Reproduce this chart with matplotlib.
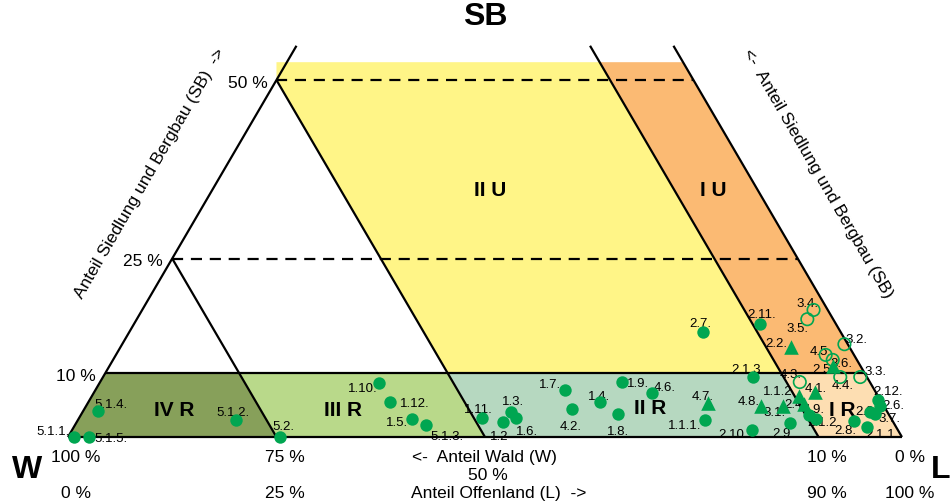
import matplotlib.pyplot as plt
from matplotlib.patches import Polygon

plt.rcParams['font.family'] = ['Liberation Sans', 'DejaVu Sans']

# point data: Wald share (W, %) and Siedlung/Bergbau share (SB, %)
labels = ["5.1.1.", "5.1.5.", "5.1.4.", "5.1.2.", "5.2.",
          "1.10.", "1.12.", "1.5.", "5.1.3.",
          "1.11.", "1.2", "1.3.", "1.6.", "1.7.", "1.9.", "4.6.", "1.4.", "4.2.", "1.8.",
          "4.7.", "1.1.1.", "2.10.", "2.1.3", "4.8.", "3.1.", "1.1.2.", "2.4.", "4.9.",
          "2.1.2.", "2.9.", "4.3.", "4.1.",
          "2.11.", "3.4.", "3.5.", "2.2.", "4.5.", "3.6.", "2.5", "4.4.", "3.2.", "3.3.",
          "2.12.", "2.6.", "2.3.", "3.7.", "2.8.", "2.1.1.", "2.7."]
wald = [99.3, 97.5, 94.6, 78.7, 74.6,
        58.9, 58.9, 57.5, 56.2,
        49.0, 46.8, 45.1, 44.9, 37.1, 29.7, 26.9, 33.8, 37.6, 32.4,
        20.9, 22.4, 17.5, 13.7, 14.7, 12.1, 9.5, 9.4, 9.6,
        9.0, 12.4, 8.4, 7.3,
        9.1, 1.7, 3.1, 7.0, 3.4, 2.9, 3.3, 3.2, 0.4, 0.8,
        0.3, 0.5, 2.1, 1.6, 4.6, 3.5, 16.5]
sb = [0.0, 0.0, 3.6, 2.4, 0.0,
      7.6, 4.9, 2.5, 1.7,
      2.7, 2.1, 3.5, 2.7, 6.6, 7.7, 6.2, 4.9, 3.9, 3.2,
      4.8, 2.4, 1.0, 8.4, 4.3, 4.3, 5.7, 4.6, 3.1,
      2.5, 2.0, 7.7, 6.3,
      15.8, 17.8, 16.5, 12.6, 11.5, 10.8, 9.9, 8.4, 13.0, 8.4,
      5.2, 4.3, 3.5, 3.2, 2.2, 1.4, 14.7]
kind = ["o"] * 19 + ["^", "o", "o", "o", "^", "^", "^", "^", "o", "o", "o", "ring", "^",
                     "o", "ring", "ring", "^", "ring", "ring", "^", "ring", "ring", "ring",
                     "o", "o", "o", "o", "o", "o", "o"]

# label offsets in pixels (dx, dy up)
offsets = {
    "5.1.1.": (-21, 6), "5.1.5.": (22, -1), "5.1.4.": (13, 7), "5.1.2.": (-3, 8),
    "5.2.": (4, 11), "1.10.": (-16, -5), "1.12.": (24, -1), "1.5.": (-15, -3),
    "5.1.3.": (21, -11), "1.11.": (-4, 9), "1.2": (-4, -14), "1.3.": (2, 11),
    "1.6.": (11, -13), "1.7.": (-15, 6), "1.9.": (16, -1), "4.6.": (13, 6),
    "1.4.": (-1, 6), "4.2.": (-1, -17), "1.8.": (0, -17), "4.7.": (-5, 7),
    "1.1.1.": (-20, -5), "2.10.": (-19, -4), "2.1.3": (-7, 8), "4.8.": (-13, 5),
    "3.1.": (-9, -6), "1.1.2.": (-19, 5), "2.4.": (-9, 0), "4.9.": (5, 6),
    "2.1.2.": (7, -3), "2.9.": (-7, -10), "4.3.": (-9, 8), "4.1.": (1, 4),
    "2.11.": (1, 10), "3.4.": (-6, 7), "3.5.": (-10, -9), "2.2.": (-15, 4),
    "4.5.": (-5, 4), "3.6.": (9, -3), "2.5": (-12, -3), "4.4.": (2, -8),
    "3.2.": (12, 5), "3.3.": (15, 6), "2.12.": (10, 9), "2.6.": (13, 1),
    "2.3.": (-4, 1), "3.7.": (14, -4), "2.8.": (-9, -9), "2.1.1.": (15, -7),
    "2.7.": (-3, 9),
}

R_TOP = 8.9      # drawn height of the "10 %" line
FILL_TOP = 52.5
LINE_TOP = 54.8


def tern(w, s):
    return 100 - w - s / 2, s


green = "#00a651"

fig = plt.figure(figsize=(9.52, 5.02), dpi=100)
ax = fig.add_axes([0, 0, 1, 1])
ax.set_xlim(-8.15, 106.0)
ax.set_ylim(-8.96, 61.35)
ax.axis("off")

# regions
regions = [
    ([tern(100, 0), tern(75, 0), tern(75, R_TOP), tern(100 - R_TOP, R_TOP)], "#87a05a"),
    ([tern(75, 0), tern(50, 0), tern(50, R_TOP), tern(75, R_TOP)], "#b9d98a"),
    ([tern(50, 0), tern(10, 0), tern(10, R_TOP), tern(50, R_TOP)], "#b6d8c0"),
    ([tern(10, 0), tern(0, 0), tern(0, R_TOP), tern(10, R_TOP)], "#fddeb2"),
    ([tern(50, R_TOP), tern(10, R_TOP), tern(10, FILL_TOP), (25, FILL_TOP), tern(50, 50)], "#fff587"),
    ([tern(10, R_TOP), tern(0, R_TOP), tern(0, FILL_TOP), tern(10, FILL_TOP)], "#fbba73"),
]
for pts, col in regions:
    ax.add_patch(Polygon(pts, closed=True, facecolor=col, edgecolor="none", zorder=1))

# solid lines
segs = [
    (tern(100, 0), tern(100 - LINE_TOP, LINE_TOP)),
    (tern(0, 0), tern(0, LINE_TOP)),
    (tern(10, 0), tern(10, LINE_TOP)),
    (tern(50, 0), tern(50, 50)),
    (tern(75, 0), tern(75, 25)),
    (tern(100, 0), tern(0, 0)),
    (tern(100 - R_TOP, R_TOP), tern(0, R_TOP)),
]
for a, b in segs:
    ax.plot([a[0], b[0]], [a[1], b[1]], color="black", lw=1.6, zorder=2,
            solid_capstyle="butt")
for lev in [25, 50]:
    a, b = tern(100 - lev, lev), tern(0, lev)
    ax.plot([a[0], b[0]], [a[1], b[1]], color="black", lw=1.6, zorder=2,
            linestyle=(0, (5, 3.5)))

# points
for lab, w, s, k in zip(labels, wald, sb, kind):
    x, y = tern(w, s)
    if k == "o":
        ax.scatter(x, y, s=80, marker="o", color=green, zorder=5, linewidths=0)
    elif k == "^":
        ax.scatter(x, y, s=110, marker="^", color=green, zorder=5, linewidths=0)
    else:
        ax.scatter(x, y, s=80, marker="o", facecolors="none", edgecolors=green,
                   linewidths=1.2, zorder=5)
    dx, dy = offsets[lab]
    ax.annotate(lab, (x, y), xytext=(dx, dy), textcoords="offset pixels",
                ha="center", va="center", fontsize=9.5, color="black", zorder=4)

# region names
for txt, w, s in [("IV R", 85.3, 3.9), ("III R", 65.1, 3.9), ("II R", 28.2, 4.1),
                  ("I R", 5.2, 3.8), ("II U", 32.0, 34.7), ("I U", 5.3, 34.7)]:
    x, y = tern(w, s)
    ax.text(x, y, txt, ha="center", va="center", fontsize=15, fontweight="bold", zorder=3)

# corner letters
ax.text(50, 59.0, "SB", ha="center", va="center", fontsize=23, fontweight="bold")
ax.text(-4.9, -4.5, "W", ha="center", va="center", fontsize=23, fontweight="bold")
ax.text(104.6, -4.5, "L", ha="center", va="center", fontsize=23, fontweight="bold")

# bottom scale
fs = 12.5
for wv, txt in [(100, "100 %"), (75, "75 %"), (10, "10 %"), (0, "0 %")]:
    x, _ = tern(wv, 0)
    ax.annotate(txt, (x, 0), xytext=(8, -19), textcoords="offset pixels",
                ha="center", va="center", fontsize=fs)
for wv, txt in [(100, "0 %"), (75, "25 %"), (10, "90 %"), (0, "100 %")]:
    x, _ = tern(wv, 0)
    ax.annotate(txt, (x, 0), xytext=(8, -55), textcoords="offset pixels",
                ha="center", va="center", fontsize=fs)
x50, _ = tern(50, 0)
ax.annotate("<-  Anteil Wald (W)", (x50, 0), xytext=(-1, -19), textcoords="offset pixels",
            ha="center", va="center", fontsize=fs)
ax.annotate("50 %", (x50, 0), xytext=(3, -37), textcoords="offset pixels",
            ha="center", va="center", fontsize=fs)
ax.annotate("Anteil Offenland (L)  ->", (x50, 0), xytext=(14, -55), textcoords="offset pixels",
            ha="center", va="center", fontsize=fs)

# left scale
for lev, txt in [(R_TOP, "10 %"), (25, "25 %"), (50, "50 %")]:
    x, y = tern(100 - lev, lev)
    ax.annotate(txt, (x, y), xytext=(-9, -2), textcoords="offset pixels",
                ha="right", va="center", fontsize=fs)

# side titles
ax.annotate("Anteil Siedlung und Bergbau (SB)  ->", tern(100 - 37, 37), xytext=(-72, 0),
            textcoords="offset pixels", ha="center", va="center", rotation=60, fontsize=fs)
ax.annotate("<-  Anteil Siedlung und Bergbau (SB)", tern(0, 37), xytext=(70, 0),
            textcoords="offset pixels", ha="center", va="center", rotation=-60, fontsize=fs)

fig.savefig("out.png", dpi=100)
